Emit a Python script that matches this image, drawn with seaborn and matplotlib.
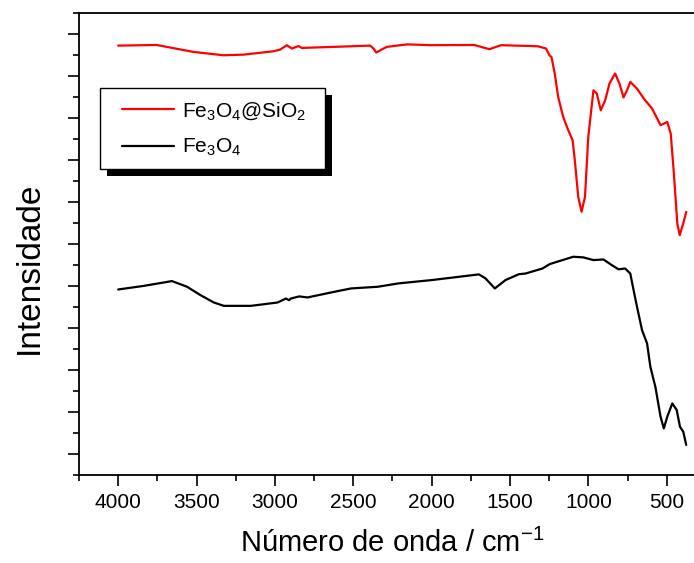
import numpy as np
import pandas as pd
import matplotlib
matplotlib.use('Agg')
import matplotlib.pyplot as plt
import seaborn as sns
from matplotlib.ticker import MultipleLocator, FixedLocator, NullFormatter
from matplotlib.patches import Rectangle

# ---- data ----
wn_sio2 = [4000, 3755, 3690, 3520, 3329, 3201, 3010, 2967, 2924, 2892, 2850, 2829,
           2627, 2392, 2371, 2354, 2328, 2286, 2200, 2155, 2005, 1728, 1632, 1558,
           1323, 1270, 1249, 1236, 1215, 1193, 1161, 1129, 1101, 1087, 1065, 1044,
           1022, 1001, 968, 947, 921, 893, 866, 830, 802, 776, 754, 733, 690, 647,
           594, 540, 497, 475, 455, 433, 418, 395, 376]
int_sio2 = [20.46, 20.49, 20.40, 20.16, 20.00, 20.03, 20.19, 20.27, 20.48, 20.32, 20.44, 20.35,
            20.40, 20.46, 20.32, 20.13, 20.24, 20.40, 20.48, 20.52, 20.48, 20.49, 20.29, 20.48,
            20.43, 20.32, 20.00, 19.92, 19.13, 18.01, 17.06, 16.43, 15.95, 15.00, 13.25, 12.54,
            13.25, 16.11, 18.33, 18.18, 17.38, 17.86, 18.65, 19.13, 18.65, 17.99, 18.33, 18.73, 18.41, 17.94,
            17.46, 16.67, 16.82, 16.27, 14.37, 11.99, 11.43, 11.99, 12.54]

wn_fe3o4 = [4000, 3838, 3657, 3561, 3475, 3390, 3326, 3154, 2983, 2930, 2910, 2898,
            2845, 2792, 2621, 2514, 2343, 2212, 1998, 1742, 1699, 1657, 1597, 1529,
            1443, 1401, 1293, 1247, 1097, 1033, 968, 904, 851, 808, 766, 733, 712,
            690, 658, 626, 605, 573, 540, 519, 497, 465, 437, 416, 395, 376]
int_fe3o4 = [8.84, 9.01, 9.24, 8.97, 8.57, 8.22, 8.06, 8.06, 8.22, 8.41, 8.33, 8.41,
             8.51, 8.46, 8.73, 8.89, 8.97, 9.13, 9.29, 9.52, 9.56, 9.37, 8.89, 9.29,
             9.57, 9.60, 9.84, 10.05, 10.40, 10.37, 10.24, 10.27, 10.00, 9.80, 9.84, 9.60, 8.81,
             8.01, 6.90, 6.27, 5.16, 4.20, 2.78, 2.22, 2.78, 3.41, 3.10, 2.30, 2.06, 1.43]

labels = ['Fe$_3$O$_4$@SiO$_2$', 'Fe$_3$O$_4$']
colors = ['#ff0000', '#000000']
x_ticks = [4000, 3500, 3000, 2500, 2000, 1500, 1000, 500]

df = pd.concat([
    pd.DataFrame({'wn': wn_sio2, 'I': int_sio2, 's': labels[0]}),
    pd.DataFrame({'wn': wn_fe3o4, 'I': int_fe3o4, 's': labels[1]}),
])

sns.set_style('ticks')
plt.rcParams['font.family'] = ['Liberation Sans', 'DejaVu Sans']
plt.rcParams['mathtext.fontset'] = 'custom'
plt.rcParams['mathtext.rm'] = 'Liberation Sans'
plt.rcParams['mathtext.it'] = 'Liberation Sans:italic'
plt.rcParams['mathtext.bf'] = 'Liberation Sans:bold'
plt.rcParams['mathtext.default'] = 'regular'
plt.rcParams['text.color'] = 'black'
plt.rcParams['axes.labelcolor'] = 'black'
plt.rcParams['xtick.color'] = 'black'
plt.rcParams['ytick.color'] = 'black'
plt.rcParams['legend.labelcolor'] = 'black'

W, H = 694, 563
AX_W, AX_H = 627, 461.7
fig = plt.figure(figsize=(W / 100, H / 100), dpi=100)
fig.patch.set_facecolor('white')
ax = fig.add_axes([79 / W, (H - 475) / H, AX_W / W, AX_H / H])

sns.lineplot(data=df, x='wn', y='I', hue='s', palette=colors, hue_order=labels,
             estimator=None, sort=False, linewidth=1.6, ax=ax)

ax.set_xlim(4250, 250)
ax.set_ylim(0, 22)
ax.xaxis.set_major_locator(FixedLocator(x_ticks))
ax.xaxis.set_minor_locator(MultipleLocator(250))
ax.yaxis.set_major_locator(FixedLocator(np.arange(1, 22, 2)))
ax.yaxis.set_minor_locator(FixedLocator(np.arange(0, 23, 2)))
ax.yaxis.set_major_formatter(NullFormatter())
ax.tick_params(which='major', direction='out', length=8, width=1.2, labelsize=15,
               colors='black', labelcolor='black', pad=5)
ax.tick_params(which='minor', direction='out', length=4, width=1.2, colors='black')
for s in ['left', 'bottom', 'top', 'right']:
    ax.spines[s].set_linewidth(1.3)
    ax.spines[s].set_color('black')

ax.set_xlabel('Número de onda / cm$^{-1}$', fontsize=21, labelpad=12, color='black')
ax.set_ylabel('Intensidade', fontsize=24, color='black')
ax.yaxis.set_label_coords(-0.054, 0.448)

# legend box with a solid offset shadow
bx, by, bw, bh = (100 - 79) / AX_W, (475 - 169) / AX_H, 225 / AX_W, 81 / AX_H
ax.add_patch(Rectangle((bx + 7 / AX_W, by - 7 / AX_H), bw, bh, transform=ax.transAxes,
                       facecolor='black', edgecolor='none', zorder=4, clip_on=False))
ax.add_patch(Rectangle((bx, by), bw, bh, transform=ax.transAxes,
                       facecolor='white', edgecolor='black', linewidth=1.0, zorder=4.5,
                       clip_on=False))

leg = ax.legend(loc='upper left', bbox_to_anchor=((122 - 79) / AX_W, (475 - 100) / AX_H),
                borderaxespad=0, fontsize=15, frameon=False, labelcolor='black',
                handlelength=2.5, handletextpad=0.4, borderpad=0, labelspacing=0.74)
leg.set_zorder(5)
for h in leg.get_lines():
    h.set_linewidth(1.6)

fig.savefig('out.png', dpi=100)
